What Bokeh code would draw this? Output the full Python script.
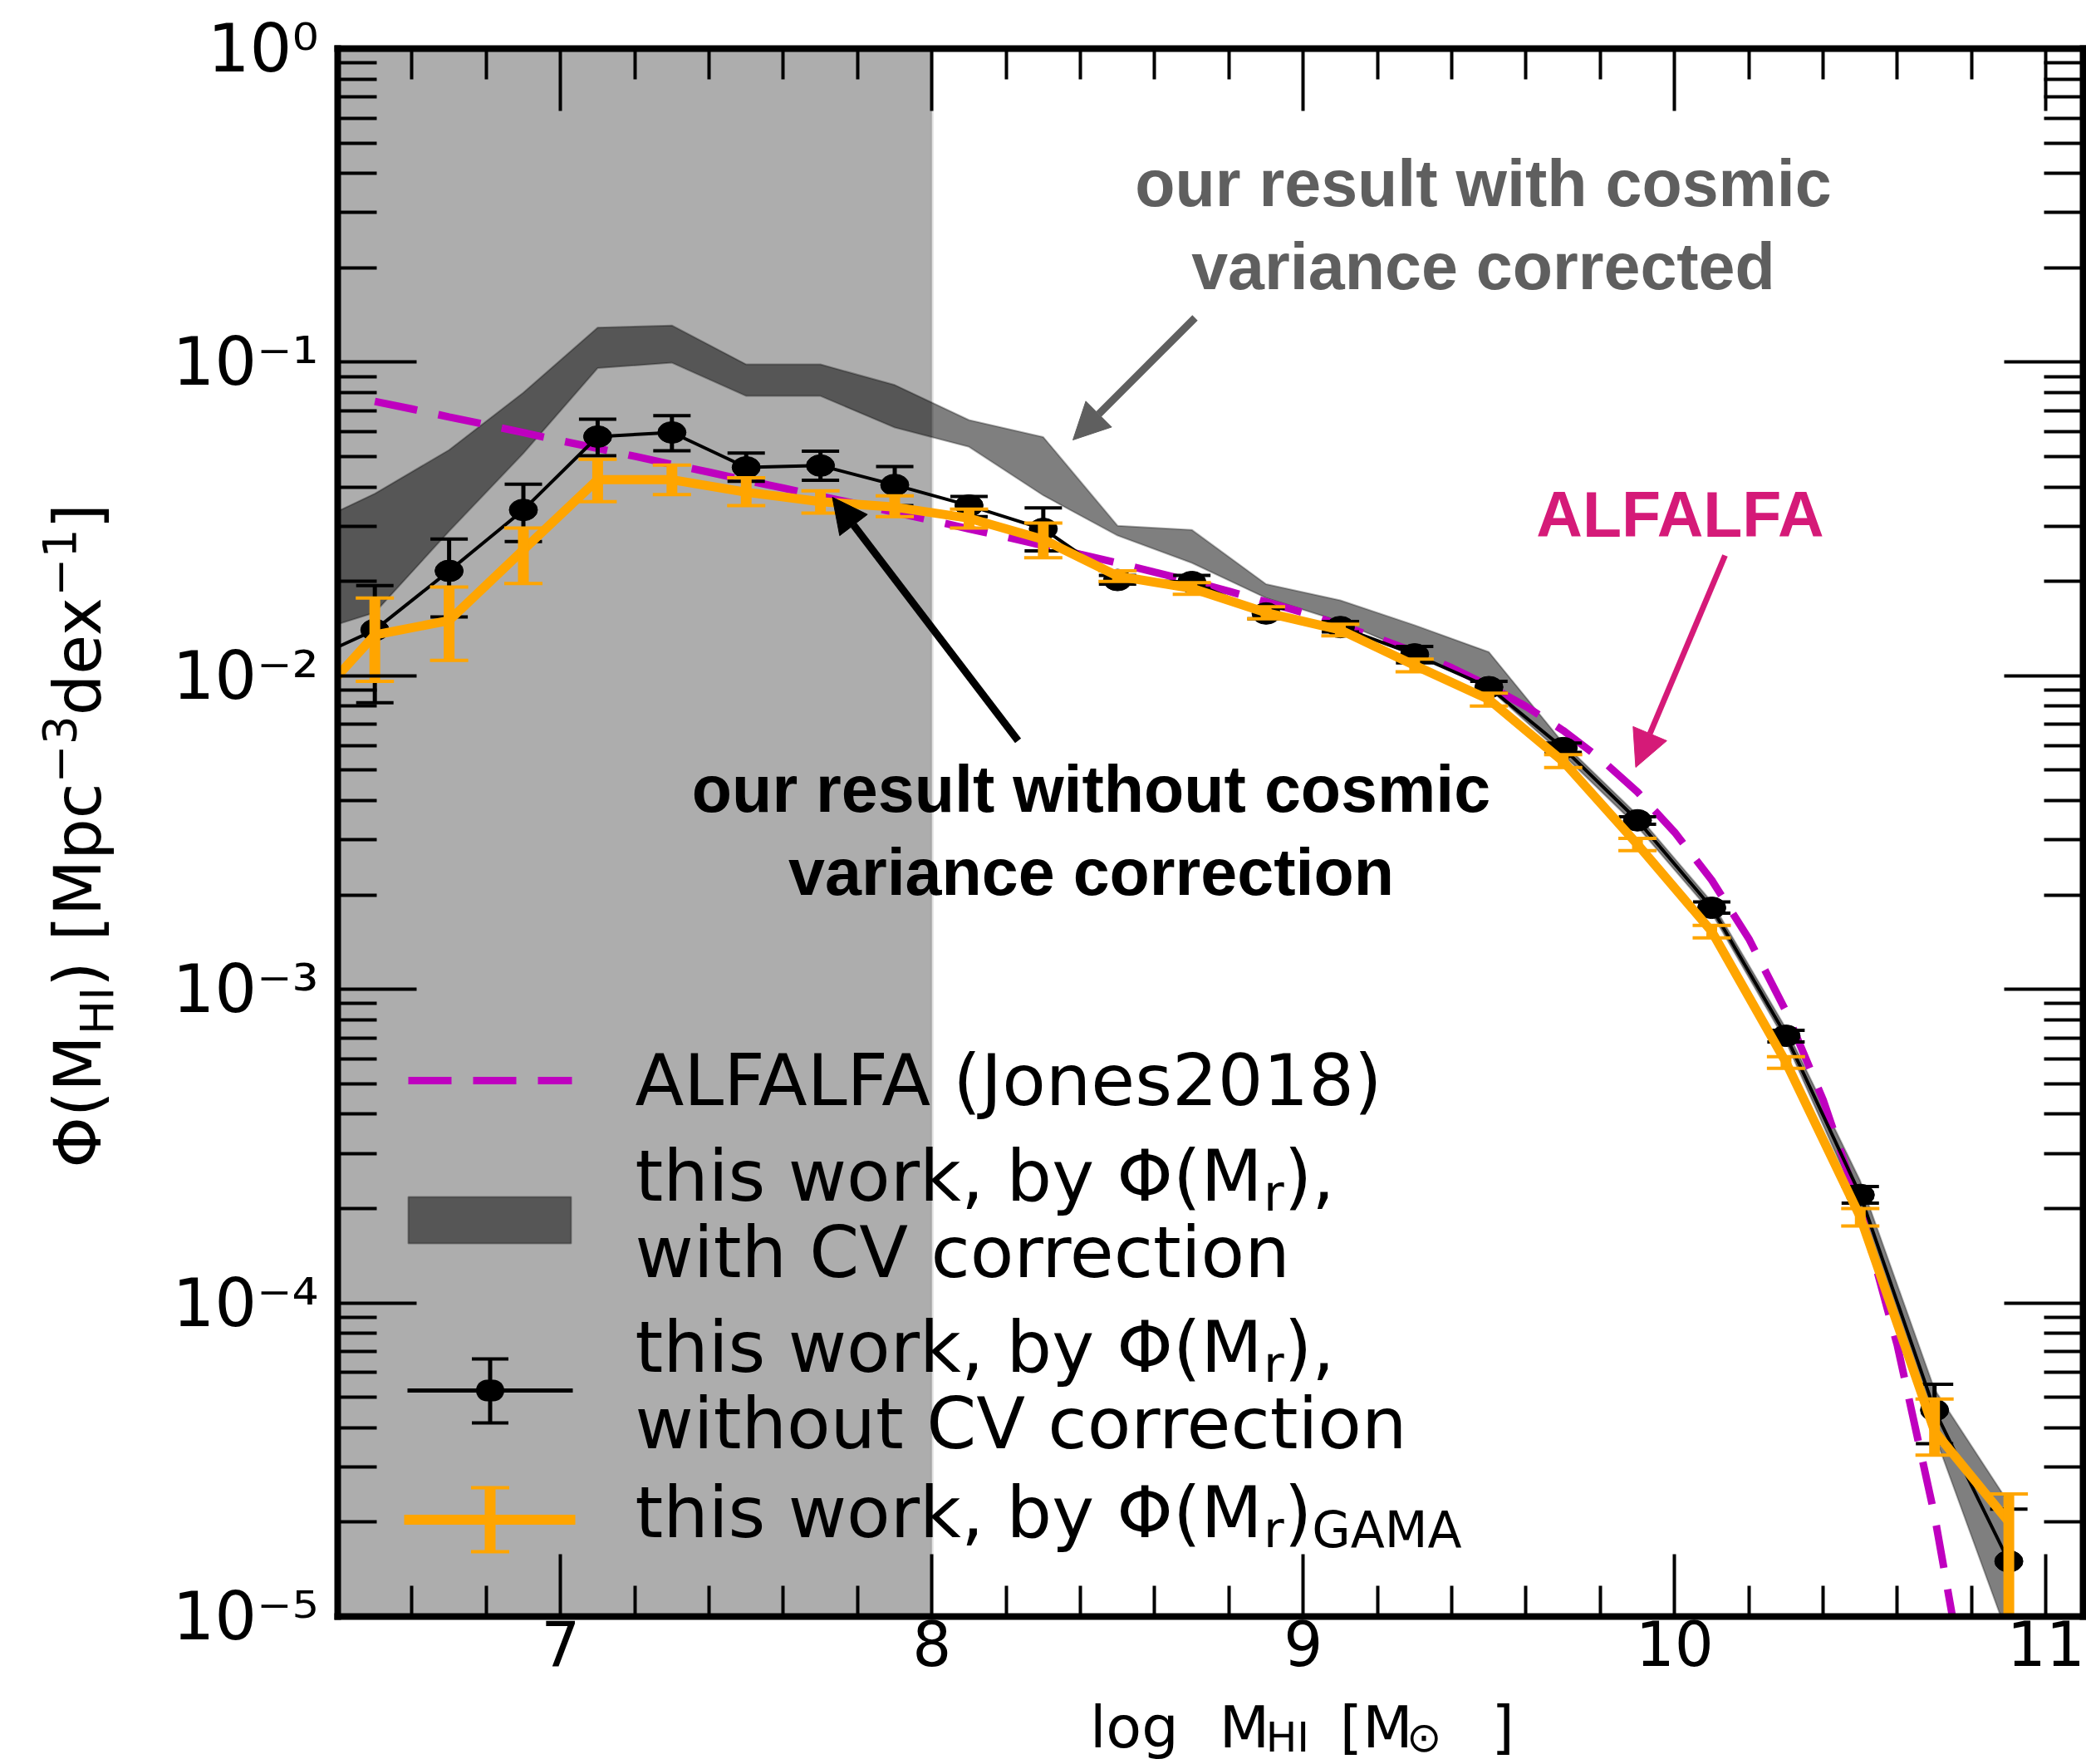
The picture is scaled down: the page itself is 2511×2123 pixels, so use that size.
import math
from bokeh.plotting import figure
from bokeh.layouts import row, column
from bokeh.models import (Range1d, FixedTicker, LinearAxis, LogAxis, Label, Arrow,
                          NormalHead, TeeHead, BoxAnnotation, CustomJSTickFormatter)
from bokeh.embed import file_html
from bokeh.resources import INLINE

# ---------------- HI mass function data ----------------
# bin centres in log M_HI [M_sun]
log_mhi = [6.3, 6.5, 6.7, 6.9, 7.1, 7.3, 7.5, 7.7, 7.9, 8.1, 8.3, 8.5,
           8.7, 8.9, 9.1, 9.3, 9.5, 9.7, 9.9, 10.1, 10.3, 10.5, 10.7, 10.9]

# this work, by Phi(M_r), without cosmic-variance correction
phi_no_cv = [0.0109, 0.0140, 0.0216, 0.0338, 0.0579, 0.0597, 0.0462, 0.0468,
             0.0406, 0.0349, 0.0294, 0.0202, 0.0199, 0.0158, 0.0143, 0.0117,
             0.0092, 0.00588, 0.00346, 0.00182, 0.000711, 0.000221, 4.55e-5, 1.50e-5]
phi_no_cv_lo = [0.0064, 0.0082, 0.0154, 0.0268, 0.0503, 0.0522, 0.0417, 0.0420,
                0.0349, 0.0322, 0.0250, 0.0196, 0.0190, 0.0152, 0.0138, 0.0110,
                0.0088, 0.0057, 0.00336, 0.00175, 0.00068, 0.000208, 3.56e-5, 3.0e-6]
phi_no_cv_hi = [0.0160, 0.0194, 0.0273, 0.0408, 0.0658, 0.0675, 0.0513, 0.0520,
                0.0465, 0.0373, 0.0343, 0.0209, 0.0209, 0.0164, 0.0149, 0.0124,
                0.0096, 0.0061, 0.00355, 0.00190, 0.00074, 0.000235, 5.5e-5, 2.2e-5]

# this work, by Phi(M_r)_GAMA
phi_gama = [0.0074, 0.0135, 0.0150, 0.0252, 0.0422, 0.0422, 0.0385, 0.0359,
            0.0345, 0.0318, 0.0272, 0.0208, 0.0190, 0.0159, 0.0140, 0.0108,
            0.0084, 0.00533, 0.00290, 0.00153, 0.000585, 0.000188, 3.9e-5, 2.0e-5]
phi_gama_lo = [0.0052, 0.0096, 0.0112, 0.0197, 0.0359, 0.0378, 0.0349, 0.0330,
               0.0322, 0.0296, 0.0238, 0.0200, 0.0182, 0.0152, 0.0134, 0.0103,
               0.0080, 0.0051, 0.00277, 0.00146, 0.00056, 0.000176, 3.27e-5, 1.0e-6]
phi_gama_hi = [0.0098, 0.0177, 0.0192, 0.0296, 0.0490, 0.0470, 0.0428, 0.0389,
               0.0375, 0.0340, 0.0307, 0.0216, 0.0198, 0.0166, 0.0146, 0.0113,
               0.0088, 0.0056, 0.00303, 0.00160, 0.00061, 0.000200, 4.94e-5, 2.46e-5]

# this work, by Phi(M_r), with cosmic-variance correction (range)
phi_cv_lo = [0.0134, 0.0159, 0.0289, 0.0512, 0.0957, 0.0996, 0.0780, 0.0780,
             0.0619, 0.0537, 0.0376, 0.0280, 0.0229, 0.0177, 0.0149, 0.0118,
             0.0091, 0.0056, 0.0033, 0.00175, 0.00068, 0.00020, 3.8e-5, 8.5e-6]
phi_cv_hi = [0.0294, 0.0381, 0.0525, 0.0800, 0.129, 0.131, 0.0984, 0.0984,
             0.0846, 0.0654, 0.0577, 0.0301, 0.0292, 0.0196, 0.0174, 0.0145,
             0.0119, 0.0061, 0.0036, 0.0019, 0.00075, 0.000245, 5.3e-5, 2.3e-5]

# ALFALFA (Jones 2018) mass function
alfalfa_logm = [6.5, 6.6, 6.7, 6.8, 6.9, 7.0, 7.1, 7.2, 7.3, 7.4, 7.5, 7.6,
                7.7, 7.8, 7.9, 8.0, 8.1, 8.2, 8.3, 8.4, 8.5, 8.6, 8.7, 8.8,
                8.9, 9.0, 9.1, 9.2, 9.3, 9.4, 9.5, 9.6, 9.7, 9.8, 9.9, 10.0,
                10.1, 10.2, 10.3, 10.4, 10.5, 10.6, 10.7, 10.8]
alfalfa_phi = [0.0750, 0.0709, 0.0669, 0.0632, 0.0596, 0.0562, 0.0531, 0.0501,
               0.0472, 0.0446, 0.0420, 0.0397, 0.0374, 0.0353, 0.0332, 0.0313,
               0.0294, 0.0277, 0.0260, 0.0244, 0.0229, 0.0214, 0.0200, 0.0186,
               0.0172, 0.0159, 0.0145, 0.0132, 0.0119, 0.0106, 0.00928, 0.00798,
               0.00669, 0.00544, 0.00426, 0.00317, 0.00223, 0.00145, 0.000851,
               0.000444, 0.000199, 7.3e-5, 2.1e-5, 4.5e-6]

# mass below which the sample is incomplete (shaded)
incomplete_below = 8.0

# ticks
x_major_ticks = [7, 8, 9, 10, 11]
x_minor_ticks = [6.6, 6.8, 7.2, 7.4, 7.6, 7.8, 8.2, 8.4, 8.6, 8.8,
                 9.2, 9.4, 9.6, 9.8, 10.2, 10.4, 10.6, 10.8]
y_decades = [0, -1, -2, -3, -4, -5]

# ---------------- page geometry ----------------
W, H = 2511, 2123
FL, FR, FT, FB = 406, 2507, 58, 1945          # plot frame edges in page pixels
YT_W = 165                                     # strip on the left for the y title
XT_TOP = 2039                                  # strip at the bottom for the x title
X_LO, X_HI = 6.4, 11.1
LOG_LO, LOG_HI = -5.0, 0.0


def dx(px):
    """page column -> data x of the main plot"""
    return X_LO + (px - FL) * (X_HI - X_LO) / (FR - FL)


def dy(py):
    """page row -> data y of the main plot (log axis)"""
    return 10 ** (LOG_HI - (py - FT) * (LOG_HI - LOG_LO) / (FB - FT))


# DejaVu Sans advance widths (em) used to lay out runs of sub/superscripts
DEJAVU = {" ": .318, ",": .318, "(": .390, ")": .390, "[": .390, "]": .390,
          "0": .636, "1": .636, "2": .636, "3": .636, "4": .636, "5": .636,
          "6": .636, "7": .636, "8": .636, "9": .636,
          "A": .684, "C": .698, "F": .575, "G": .776, "H": .752, "I": .295,
          "J": .295, "L": .557, "M": .863, "V": .684,
          "a": .613, "b": .635, "c": .550, "d": .635, "e": .615, "g": .635,
          "h": .634, "i": .278, "k": .579, "l": .278, "n": .634, "o": .612,
          "p": .635, "r": .411, "s": .521, "t": .392, "u": .634, "w": .818,
          "x": .592, "y": .592, "\u03a6": .800, "\u2212": .838, "\u2299": .838}


def text_width(s, size):
    return sum(DEJAVU.get(c, 0.6) for c in s) * size


ORANGE = "#ffa500"
MAGENTA = "#bf00bf"
GREY_TXT = "#5f5f5f"
PINK = "#d51a78"
SHADE = "#adadad"
FONT = "DejaVu Sans"
BOLD_FONT = "Liberation Sans"
BASELINE_SHIFT = 0.31      # Label anchor sits this many em above the drawn baseline

p = figure(width=W - YT_W, height=XT_TOP,
           x_range=Range1d(X_LO, X_HI), y_range=Range1d(10 ** LOG_LO, 10 ** LOG_HI),
           y_axis_type="log", output_backend="svg", toolbar_location=None,
           min_border_left=FL - YT_W, min_border_right=W - FR,
           min_border_top=FT, min_border_bottom=XT_TOP - FB,
           background_fill_color="white", border_fill_color="white",
           outline_line_color=None)
p.grid.grid_line_color = None


def style_axis(ax, tick_in, minor_in, show_labels):
    ax.axis_line_width = 8
    ax.axis_line_color = "black"
    ax.axis_line_cap = "square"
    ax.major_tick_in = tick_in
    ax.major_tick_out = 0
    ax.minor_tick_in = minor_in
    ax.minor_tick_out = 0
    ax.major_tick_line_width = 4
    ax.minor_tick_line_width = 4
    ax.major_tick_line_color = "black"
    ax.minor_tick_line_color = "black"
    if not show_labels:
        ax.formatter = CustomJSTickFormatter(code="return ''")
        ax.major_label_text_font_size = "0px"
        ax.major_label_standoff = 0


def x_ticker():
    return FixedTicker(ticks=x_major_ticks, minor_ticks=x_minor_ticks)


def y_ticker():
    return FixedTicker(ticks=[10.0 ** d for d in y_decades],
                       minor_ticks=[m * 10.0 ** e for e in range(-5, 0) for m in range(2, 10)])


bottom = p.xaxis[0]
bottom.ticker = x_ticker()
style_axis(bottom, 75, 37, True)
bottom.major_label_text_font = FONT
bottom.major_label_text_font_size = "74px"
bottom.major_label_text_color = "black"
bottom.major_label_standoff = 4

left = p.yaxis[0]
left.ticker = y_ticker()
style_axis(left, 95, 47, True)
left.formatter = CustomJSTickFormatter(code="""
const sup = {"-": "\u207b", "0": "\u2070", "1": "\u00b9", "2": "\u00b2", "3": "\u00b3",
             "4": "\u2074", "5": "\u2075", "6": "\u2076", "7": "\u2077", "8": "\u2078", "9": "\u2079"};
const e = Math.round(Math.log10(tick));
return "10" + String(e).split("").map((c) => sup[c]).join("");
""")
left.major_label_text_font = FONT
left.major_label_text_font_size = "80px"
left.major_label_text_color = "black"
left.major_label_standoff = FL - 383

top = LinearAxis(ticker=x_ticker())
style_axis(top, 75, 37, False)
p.add_layout(top, "above")

right = LogAxis(ticker=y_ticker())
style_axis(right, 95, 47, False)
p.add_layout(right, "right")

# incomplete-mass region
p.add_layout(BoxAnnotation(right=incomplete_below, fill_color=SHADE, fill_alpha=1.0,
                           line_color="#9c9c9c", line_width=4, level="underlay"))

# cosmic-variance-corrected range
p.varea(x=log_mhi, y1=phi_cv_lo, y2=phi_cv_hi, fill_color="black", fill_alpha=0.5)
p.line(log_mhi, phi_cv_hi, line_color="black", line_alpha=0.3, line_width=2)
p.line(log_mhi, phi_cv_lo, line_color="black", line_alpha=0.3, line_width=2)

# ALFALFA
p.line(alfalfa_logm, alfalfa_phi, line_color=MAGENTA, line_width=9, line_dash="52 26")

# without CV correction
p.line(log_mhi, phi_no_cv, line_color="black", line_width=4, line_join="round")
p.segment(x0=log_mhi, y0=phi_no_cv_lo, x1=log_mhi, y1=phi_no_cv_hi,
          line_color="black", line_width=5)
p.scatter(x=log_mhi + log_mhi, y=phi_no_cv_lo + phi_no_cv_hi, marker="dash",
          size=45, line_width=4, line_color="black")
p.ellipse(x=log_mhi, y=phi_no_cv, width=34, height=26,
          width_units="screen", height_units="screen",
          fill_color="black", line_color="black")

# GAMA-based
p.line(log_mhi, phi_gama, line_color=ORANGE, line_width=11, line_join="round")
p.segment(x0=log_mhi, y0=phi_gama_lo, x1=log_mhi, y1=phi_gama_hi,
          line_color=ORANGE, line_width=13)
p.scatter(x=log_mhi + log_mhi, y=phi_gama_lo + phi_gama_hi, marker="dash",
          size=46, line_width=4, line_color=ORANGE)


def label(text, px, py, size, font=FONT, color="black", align="left", style="normal"):
    """text inside the plot frame; py is the baseline row"""
    p.add_layout(Label(x=dx(px), y=dy(py - BASELINE_SHIFT * size), text=text, text_font=font,
                       text_font_size=f"{size:.1f}px", text_color=color,
                       text_align=align, text_baseline="alphabetic",
                       text_font_style=style))


# legend keys
p.add_layout(Arrow(end=None, x_start=dx(491), y_start=dy(1300), x_end=dx(688), y_end=dy(1300),
                   line_color=MAGENTA, line_width=9, line_dash="52 26"))
p.add_layout(BoxAnnotation(left=dx(491), right=dx(687), top=dy(1440), bottom=dy(1496),
                           fill_color="black", fill_alpha=0.5, line_color="black",
                           line_alpha=0.3, line_width=2))
p.add_layout(Arrow(end=None, x_start=dx(490), y_start=dy(1673), x_end=dx(689), y_end=dy(1673),
                   line_color="black", line_width=5))
p.add_layout(Arrow(start=TeeHead(size=44, line_width=4, line_color="black"),
                   end=TeeHead(size=44, line_width=4, line_color="black"),
                   x_start=dx(589.5), y_start=dy(1712), x_end=dx(589.5), y_end=dy(1635),
                   line_color="black", line_width=5))
p.add_layout(BoxAnnotation(left=dx(572.5), right=dx(606.5), top=dy(1660), bottom=dy(1686),
                           fill_color="black", fill_alpha=1.0, line_color=None,
                           border_radius=13))
p.add_layout(Arrow(end=None, x_start=dx(486), y_start=dy(1828.5), x_end=dx(692), y_end=dy(1828.5),
                   line_color=ORANGE, line_width=12))
p.add_layout(Arrow(start=TeeHead(size=46, line_width=4, line_color=ORANGE),
                   end=TeeHead(size=46, line_width=4, line_color=ORANGE),
                   x_start=dx(589.5), y_start=dy(1867), x_end=dx(589.5), y_end=dy(1790),
                   line_color=ORANGE, line_width=13))

# legend texts
LX, LS, SS = 764, 86, 60
label("ALFALFA (Jones2018)", LX, 1326, LS)


def phi_mr(base, sub_tail=None, tail="),"):
    head = "this work, by \u03a6(M"
    label(head, LX, base, LS)
    x = LX + text_width(head, LS)
    label("r", x, base + 13, SS)
    x += text_width("r", SS)
    label(tail, x, base, LS)
    if sub_tail:
        x += text_width(tail, LS)
        label(sub_tail, x, base + 13, SS)


phi_mr(1441)
label("with CV correction", LX, 1533, LS)
phi_mr(1647)
label("without CV correction", LX, 1739, LS)
phi_mr(1846, sub_tail="GAMA", tail=")")

# callouts
label("our result with cosmic", 1785, 244, 79, font=BOLD_FONT, color=GREY_TXT,
      align="center", style="bold")
label("variance corrected", 1785, 344, 79, font=BOLD_FONT, color=GREY_TXT,
      align="center", style="bold")
p.add_layout(Arrow(end=NormalHead(size=44, fill_color=GREY_TXT, line_color=GREY_TXT, line_width=1),
                   x_start=dx(1438), y_start=dy(382), x_end=dx(1291), y_end=dy(529),
                   line_color=GREY_TXT, line_width=9))

label("our result without cosmic", 1313, 973, 79, font=BOLD_FONT, color="black",
      align="center", style="bold")
label("variance correction", 1313, 1073, 79, font=BOLD_FONT, color="black",
      align="center", style="bold")
p.add_layout(Arrow(end=NormalHead(size=42, fill_color="black", line_color="black", line_width=1),
                   x_start=dx(1225), y_start=dy(891), x_end=dx(1001.5), y_end=dy(598),
                   line_color="black", line_width=9))

label("ALFALFA", 2022, 642, 77, font=BOLD_FONT, color=PINK, align="center", style="bold")
p.add_layout(Arrow(end=NormalHead(size=44, fill_color=PINK, line_color=PINK, line_width=1),
                   x_start=dx(2076), y_start=dy(668), x_end=dx(1968.5), y_end=dy(923),
                   line_color=PINK, line_width=7))


# ---------------- axis titles, in strips beside the plot ----------------
def strip(width, height, x0):
    f = figure(width=width, height=height, title=None,
               x_range=Range1d(x0, x0 + width), y_range=Range1d(0, height),
               x_axis_location=None, y_axis_location=None,
               output_backend="svg", toolbar_location=None, min_border=0,
               background_fill_color="white", border_fill_color="white",
               outline_line_color=None)
    f.grid.grid_line_color = None
    return f


ytitle = strip(YT_W, H, 0)
xtitle = strip(W - YT_W, H - XT_TOP, YT_W)


def title_piece(f, text, px, py, size, angle=0):
    """px, py: page column of the start and page row of the baseline
    (for rotated text: baseline column and start row)"""
    if angle == 0:
        ax, ay = px, py - BASELINE_SHIFT * size
    else:
        ax, ay = px - BASELINE_SHIFT * size, py
    f.add_layout(Label(x=ax, y=H - ay, text=text, text_font=FONT,
                       text_font_size=f"{size:.1f}px", text_color="black",
                       text_align="left", text_baseline="alphabetic",
                       angle=angle, angle_units="deg"))


# y title, rotated, built from runs
pos = 1405
for txt, size, shift in [("\u03a6(M", 78, 0), ("HI", 55, 16), (") [Mpc", 78, 0),
                         ("\u22123", 55, -30), ("dex", 78, 0), ("\u22121", 55, -30),
                         ("]", 78, 0)]:
    title_piece(ytitle, txt, 118 + shift, pos, size, angle=90)
    pos -= text_width(txt, size)

# x title
XS, XSS = 70, 50
X_BASE, X_SUB = 2100, 2106
title_piece(xtitle, "log", 1176, X_BASE, XS)
title_piece(xtitle, "M", 1350, X_BASE, XS)
title_piece(xtitle, "HI", 1352 + text_width("M", XS), X_SUB, XSS)
title_piece(xtitle, "[M", 1512, X_BASE, XS)
title_piece(xtitle, "\u2299", 1514 + text_width("[M", XS), X_SUB, XSS)
title_piece(xtitle, "]", 1716, X_BASE, XS)

page = row(ytitle, column(p, xtitle))
open("out.html", "w").write(file_html(page, INLINE))
